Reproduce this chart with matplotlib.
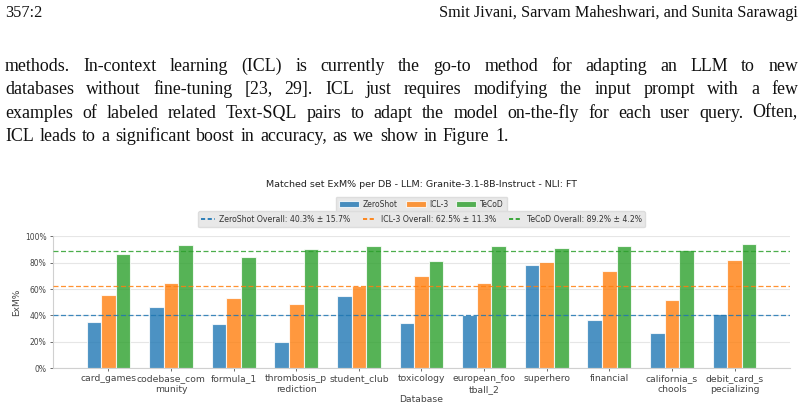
import matplotlib
matplotlib.use("Agg")
import matplotlib.pyplot as plt
import numpy as np
from matplotlib.ticker import PercentFormatter

W, H = 803, 411
SERIF = ["Liberation Serif", "DejaVu Serif"]

# ---- data ----
databases = ["card_games", "codebase_community", "formula_1", "thrombosis_prediction",
             "student_club", "toxicology", "european_football_2", "superhero",
             "financial", "california_schools", "debit_card_specializing"]
zeroshot = [34.7, 46.6, 33.4, 19.7, 54.7, 34.4, 40.5, 78.7, 36.2, 26.8, 41.0]
icl3 = [55.4, 64.6, 53.2, 48.9, 62.5, 70.1, 64.8, 80.3, 73.9, 51.4, 81.8]
tecod = [86.8, 93.7, 84.3, 90.4, 92.7, 81.3, 92.7, 91.1, 92.7, 89.6, 94.2]
methods = ["ZeroShot", "ICL-3", "TeCoD"]
overall_mean = [40.3, 62.5, 89.2]
overall_std = [15.7, 11.3, 4.2]
colors = ["tab:blue", "tab:orange", "tab:green"]

header_left = "357:2"
header_right = "Smit Jivani, Sarvam Maheshwari, and Sunita Sarawagi"
body_lines = [
    "methods. In-context learning (ICL) is currently the go-to method for adapting an LLM to new",
    "databases without fine-tuning [23, 29]. ICL just requires modifying the input prompt with a few",
    "examples of labeled related Text-SQL pairs to adapt the model on-the-fly for each user query. Often,",
    "ICL leads to a significant boost in accuracy, as we show in Figure 1.",
]

fig = plt.figure(figsize=(W / 100, H / 100), dpi=100)
r = fig.canvas.get_renderer()


def text_width(s, size):
    t = fig.text(0, 0, s, fontsize=size, family=SERIF)
    w = t.get_window_extent(r).width
    t.remove()
    return w


def put_line(s, x0, x1, base, size, justify=True):
    words = s.split(" ")
    widths = [text_width(w, size) for w in words]
    if justify:
        gap = (x1 - x0 - sum(widths)) / (len(words) - 1)
    else:
        gap = (x1 - x0 - sum(widths)) / (len(words) - 1)
        gap = min(gap, text_width("a a", size) - text_width("aa", size) + 1.2)
    x = x0
    for w, wd in zip(words, widths):
        fig.text(x / W, 1 - base / H, w, fontsize=size, family=SERIF,
                 va="baseline", ha="left", color="#111111")
        x += wd + gap


# page header
hsize = 10 * 360 / text_width(header_right, 10)
fig.text(5 / W, 1 - 17 / H, header_left, fontsize=hsize, family=SERIF, va="baseline", color="#111111")
fig.text(798 / W, 1 - 17 / H, header_right, fontsize=hsize, family=SERIF, va="baseline",
         ha="right", color="#111111")

# body paragraph, justified
bsize = 0.9 * 10 * 542 / text_width(body_lines[-1], 10)
for i, line in enumerate(body_lines):
    last = i == len(body_lines) - 1
    put_line(line, 5, 547 if last else 798, 70.5 + 23.5 * i, bsize, justify=not last)

# ---- chart ----
ax = fig.add_axes([53 / W, 1 - 368 / H, (790 - 53) / W, (368 - 236.5) / H])
x = np.arange(len(databases))
width = 0.233
series = [zeroshot, icl3, tecod]
bars = []
for k, (vals, name, c) in enumerate(zip(series, methods, colors)):
    b = ax.bar(x + (k - 1) * width, vals, width, color=c, alpha=0.8,
               edgecolor="white", linewidth=0.8, label=name, zorder=2)
    bars.append(b)

lines = []
for m, s, name, c in zip(overall_mean, overall_std, methods, colors):
    ln = ax.axhline(m, color=c, ls=(0, (4, 2)), lw=0.9, alpha=0.85, zorder=3,
                    label=f"{name} Overall: {m:.1f}% \u00b1 {s:.1f}%")
    lines.append(ln)

ax.set_xlim(-0.885, len(databases) - 1 + 0.885)
ax.set_ylim(0, 100)
ax.set_yticks(np.arange(0, 101, 20))
ax.yaxis.set_major_formatter(PercentFormatter(decimals=0))
ax.set_xticks(x)
ax.set_xticklabels(["\n".join(d[i:i + 12] for i in range(0, len(d), 12)) for d in databases])
ax.tick_params(axis="x", labelsize=6.7, colors="#555555", length=2.5, width=0.6, pad=2)
ax.tick_params(axis="y", labelsize=5.5, colors="#555555", length=2.5, width=0.6, pad=2)
for lbl in ax.get_xticklabels() + ax.get_yticklabels():
    lbl.set_color("#444444")
ax.grid(axis="y", color="#e6e6e6", lw=0.8, zorder=0)
ax.set_axisbelow(True)
for side in ["top", "right"]:
    ax.spines[side].set_visible(False)
for side in ["left", "bottom"]:
    ax.spines[side].set_color("#d0d0d0")
    ax.spines[side].set_linewidth(0.8)

ax.set_xlabel("Database", fontsize=6.7, color="#444444", labelpad=1)
ax.set_ylabel("ExM%", fontsize=6.5, color="#444444", labelpad=3)
fig.text(421.5 / W, 1 - 184 / H, "Matched set ExM% per DB - LLM: Granite-3.1-8B-Instruct - NLI: FT",
         fontsize=6.8, ha="center", va="center", color="#222222")

leg1 = fig.legend(handles=bars, loc="center", bbox_to_anchor=(421.5 / W, 1 - 204.5 / H),
                  ncol=3, fontsize=5.5, frameon=True, facecolor="#e8e8e8", edgecolor="#dddddd",
                  framealpha=1, handlelength=2.6, handleheight=0.8, columnspacing=1.0,
                  borderpad=0.45, handletextpad=0.5)
leg2 = fig.legend(handles=lines, loc="center", bbox_to_anchor=(421.5 / W, 1 - 219.5 / H),
                  ncol=3, fontsize=5.6, frameon=True, facecolor="#e8e8e8", edgecolor="#dddddd",
                  framealpha=1, handlelength=1.7, columnspacing=1.6,
                  borderpad=0.45, handletextpad=0.6)
for lg in (leg1, leg2):
    for t in lg.get_texts():
        t.set_color("#333333")
for h in leg2.legend_handles:
    h.set_linewidth(1.3)
    h.set_linestyle((0, (2.3, 1.4)))
    h.set_alpha(1.0)

fig.savefig("out.png", dpi=100)
